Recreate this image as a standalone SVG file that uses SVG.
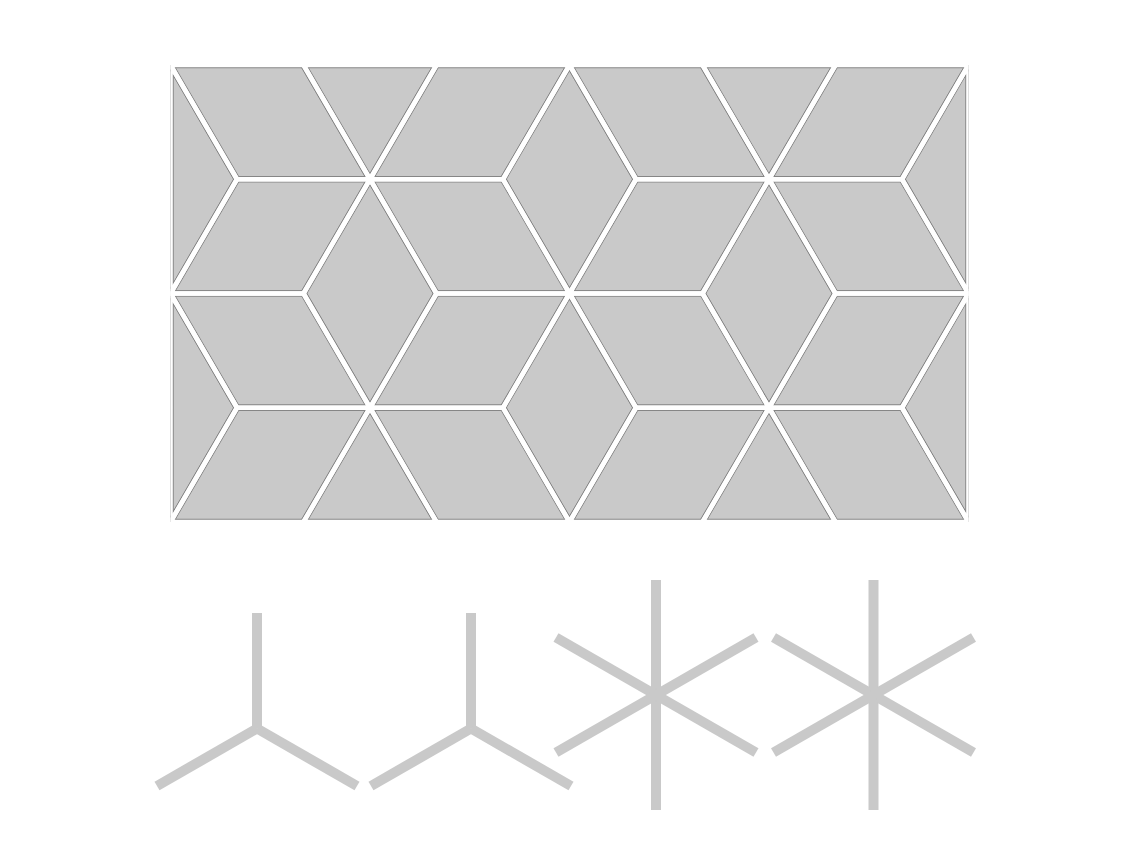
<svg xmlns="http://www.w3.org/2000/svg" xmlns:xlink="http://www.w3.org/1999/xlink" width="1140" height="855" viewBox="0 0 1140 855">
  <style>
    .edge { fill: #c9c9c9; stroke: #868686; stroke-width: 6.5; stroke-linejoin: round; }
    .gap { fill: none; stroke: #ffffff; stroke-width: 4.6; stroke-linejoin: round; }
    .arm { stroke: #c9c9c9; stroke-width: 10; stroke-linecap: butt; fill: none; }
  </style>
  <defs>
    <clipPath id="frame">
      <rect x="170.5" y="65" width="798" height="457"/>
    </clipPath>
    <g id="tileset">
      <polygon points="170.5,65 237,179.25 170.5,293.5"/>
      <polygon points="170.5,65 303.5,65 370,179.25 237,179.25"/>
      <polygon points="303.5,65 436.5,65 370,179.25"/>
      <polygon points="436.5,65 569.5,65 503,179.25 370,179.25"/>
      <polygon points="569.5,65 636,179.25 569.5,293.5 503,179.25"/>
      <polygon points="569.5,65 702.5,65 769,179.25 636,179.25"/>
      <polygon points="702.5,65 835.5,65 769,179.25"/>
      <polygon points="835.5,65 968.5,65 902,179.25 769,179.25"/>
      <polygon points="968.5,65 968.5,293.5 902,179.25"/>
      <polygon points="237,179.25 370,179.25 303.5,293.5 170.5,293.5"/>
      <polygon points="370,179.25 436.5,293.5 370,407.75 303.5,293.5"/>
      <polygon points="370,179.25 503,179.25 569.5,293.5 436.5,293.5"/>
      <polygon points="636,179.25 769,179.25 702.5,293.5 569.5,293.5"/>
      <polygon points="769,179.25 835.5,293.5 769,407.75 702.5,293.5"/>
      <polygon points="769,179.25 902,179.25 968.5,293.5 835.5,293.5"/>
      <polygon points="170.5,293.5 237,407.75 170.5,522"/>
      <polygon points="170.5,293.5 303.5,293.5 370,407.75 237,407.75"/>
      <polygon points="436.5,293.5 569.5,293.5 503,407.75 370,407.75"/>
      <polygon points="569.5,293.5 636,407.75 569.5,522 503,407.75"/>
      <polygon points="569.5,293.5 702.5,293.5 769,407.75 636,407.75"/>
      <polygon points="835.5,293.5 968.5,293.5 902,407.75 769,407.75"/>
      <polygon points="968.5,293.5 968.5,522 902,407.75"/>
      <polygon points="237,407.75 370,407.75 303.5,522 170.5,522"/>
      <polygon points="370,407.75 436.5,522 303.5,522"/>
      <polygon points="370,407.75 503,407.75 569.5,522 436.5,522"/>
      <polygon points="636,407.75 769,407.75 702.5,522 569.5,522"/>
      <polygon points="769,407.75 835.5,522 702.5,522"/>
      <polygon points="769,407.75 902,407.75 968.5,522 835.5,522"/>
    </g>
  </defs>
  <rect width="1140" height="855" fill="#ffffff"/>
  <g id="tiling" clip-path="url(#frame)">
    <use xlink:href="#tileset" href="#tileset" class="edge"/>
    <use xlink:href="#tileset" href="#tileset" class="gap"/>
  </g>
  <g id="star1" class="arm">
    <line x1="257" y1="728.5" x2="257" y2="613"/>
    <line x1="257" y1="728.5" x2="157" y2="786"/>
    <line x1="257" y1="728.5" x2="357" y2="786"/>
  </g>
  <g id="star2" class="arm">
    <line x1="471" y1="728.5" x2="471" y2="613"/>
    <line x1="471" y1="728.5" x2="371" y2="786"/>
    <line x1="471" y1="728.5" x2="571" y2="786"/>
  </g>
  <g id="star3" class="arm">
    <line x1="656" y1="580" x2="656" y2="810"/>
    <line x1="556" y1="637.5" x2="756" y2="752.5"/>
    <line x1="556" y1="752.5" x2="756" y2="637.5"/>
  </g>
  <g id="star4" class="arm">
    <line x1="873.5" y1="580" x2="873.5" y2="810"/>
    <line x1="773.5" y1="637.5" x2="973.5" y2="752.5"/>
    <line x1="773.5" y1="752.5" x2="973.5" y2="637.5"/>
  </g>
</svg>
